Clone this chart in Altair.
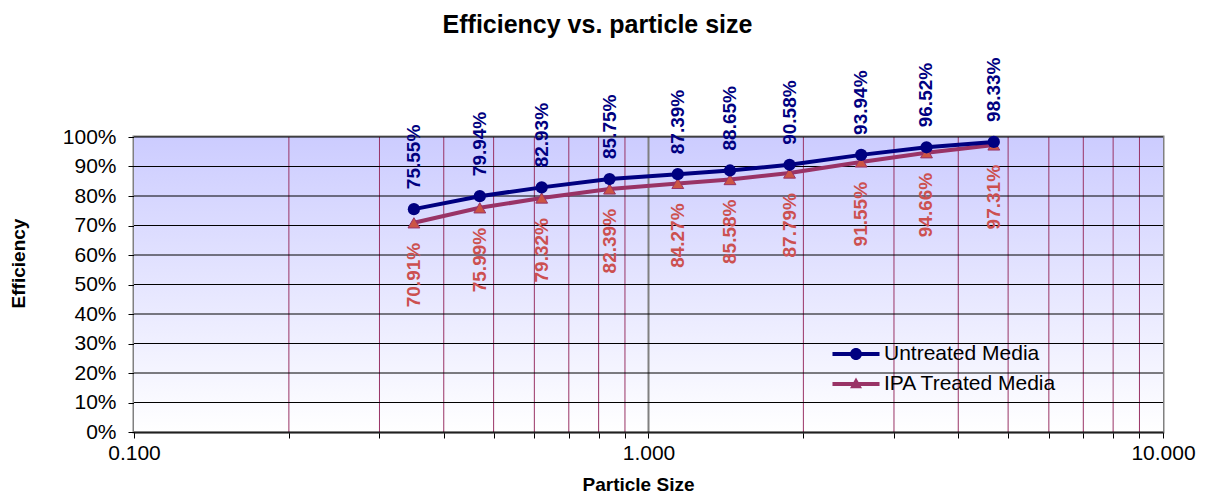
import altair as alt
import pandas as pd

# ---- data ----
PARTICLE_SIZE = [0.35, 0.47, 0.62, 0.84, 1.14, 1.44, 1.88, 2.59, 3.47, 4.69]
UNTREATED = [75.55, 79.94, 82.93, 85.75, 87.39, 88.65, 90.58, 93.94, 96.52, 98.33]
IPA_TREATED = [70.91, 75.99, 79.32, 82.39, 84.27, 85.58, 87.79, 91.55, 94.66, 97.31]
SERIES = ["Untreated Media", "IPA Treated Media"]

X_MAJOR = [0.1, 1, 10]
X_MINOR = [0.2, 0.3, 0.4, 0.5, 0.6, 0.7, 0.8, 0.9, 2, 3, 4, 5, 6, 7, 8, 9]
Y_TICKS = [0, 0.1, 0.2, 0.3, 0.4, 0.5, 0.6, 0.7, 0.8, 0.9, 1.0]

NAVY = "#000080"
MAROON = "#993366"
TRI_FILL = "#CC5544"
RED_LABEL = "#CC5050"
FONT = "Liberation Sans"

df = pd.DataFrame({
    "size": PARTICLE_SIZE,
    "untreated": [v / 100 for v in UNTREATED],
    "ipa": [v / 100 for v in IPA_TREATED],
    "u_label": [f"{v:.2f}%" for v in UNTREATED],
    "i_label": [f"{v:.2f}%" for v in IPA_TREATED],
})
minor_df = pd.DataFrame({"v": X_MINOR})
major_df = pd.DataFrame({"v": [1]})
ygrid_df = pd.DataFrame({"y": Y_TICKS})
legend_df = pd.DataFrame({"series": SERIES})
bg_df = pd.DataFrame({"a": [0]})

xscale = alt.Scale(type="log", domain=[0.1, 10], nice=False)
yscale = alt.Scale(domain=[0, 1], nice=False)

xaxis = alt.Axis(
    title="Particle Size",
    values=sorted(X_MAJOR + X_MINOR),
    labelExpr="(datum.value == 0.1 || datum.value == 1 || datum.value == 10) ? format(datum.value, '.3f') : ''",
    grid=False, ticks=True, tickSize=6, tickColor="#000000",
    domain=True, domainColor="#404040", domainWidth=2,
    labelFont=FONT, labelFontSize=21, labelColor="#000000", labelPadding=4,
    labelOverlap=False, labelFlush=False,
    titleFont=FONT, titleFontSize=19, titleFontWeight="bold", titleColor="#000000",
    titlePadding=12, titleX=504,
)
yaxis = alt.Axis(
    title="Efficiency",
    values=Y_TICKS, format=".0%",
    grid=False, ticks=True, tickSize=6, tickColor="#000000",
    domain=False,
    labelFont=FONT, labelFontSize=21, labelColor="#000000", labelPadding=12,
    titleFont=FONT, titleFontSize=19, titleFontWeight="bold", titleColor="#000000",
    titlePadding=34, titleY=126,
)


def X(field):
    return alt.X(f"{field}:Q", scale=xscale, axis=xaxis)


def Y(field):
    return alt.Y(f"{field}:Q", scale=yscale, axis=yaxis)


background = alt.Chart(bg_df).mark_rect(
    color=alt.Gradient(
        gradient="linear",
        stops=[alt.GradientStop(color="#CCCCFF", offset=0),
               alt.GradientStop(color="#FFFFFF", offset=1)],
        x1=0, x2=0, y1=0, y2=1,
    )
).encode(x=alt.value(0), x2=alt.value("width"), y=alt.value(0), y2=alt.value("height"))

minor_rules = alt.Chart(minor_df).mark_rule(color=MAROON, strokeWidth=1).encode(x=X("v"))
major_rules = alt.Chart(major_df).mark_rule(color="#808080", strokeWidth=2).encode(x=X("v"))
y_rules = alt.Chart(ygrid_df).mark_rule(color="#000000", strokeWidth=1).encode(y=Y("y"))

base = alt.Chart(df)
line_u = base.mark_line(color=NAVY, strokeWidth=4).encode(x=X("size"), y=Y("untreated"))
line_i = base.mark_line(color=MAROON, strokeWidth=4).encode(x=X("size"), y=Y("ipa"))
pts_u = base.mark_point(shape="circle", filled=True, color=NAVY, size=150, opacity=1).encode(
    x=X("size"), y=Y("untreated"))
pts_i = base.mark_point(shape="triangle-up", filled=True, fill=TRI_FILL, stroke=MAROON,
                        strokeWidth=1, size=140, opacity=1).encode(x=X("size"), y=Y("ipa"))

lab_u = base.mark_text(angle=270, align="left", baseline="middle", dx=20,
                       font=FONT, fontSize=19, fontWeight="bold", color=NAVY).encode(
    x=X("size"), y=Y("untreated"), text="u_label:N")
lab_i = base.mark_text(angle=270, align="right", baseline="middle", dx=-20,
                       font=FONT, fontSize=19, fontWeight="bold", color=RED_LABEL).encode(
    x=X("size"), y=Y("ipa"), text="i_label:N")

PATH_U = ("M-1.96,-0.17H1.96V0.17H-1.96Z "
          "M-0.5,0A0.5,0.5 0 1 1 0.5,0A0.5,0.5 0 1 1 -0.5,0Z")
PATH_I = ("M-1.96,-0.17H1.96V0.17H-1.96Z "
          "M0,-0.55L0.5,0.36L-0.5,0.36Z")

leg = alt.Legend(
    title=None, orient="none", legendX=710, legendY=205, padding=0,
    symbolSize=576, symbolOpacity=1, symbolStrokeWidth=0,
    labelFont=FONT, labelFontSize=21, labelColor="#000000", labelOffset=16,
    labelLimit=400, rowPadding=8,
)
legend_layer = alt.Chart(legend_df).transform_filter("false").mark_point(
    filled=True, opacity=1
).encode(
    color=alt.Color("series:N", scale=alt.Scale(domain=SERIES, range=[NAVY, MAROON]), legend=leg),
    shape=alt.Shape("series:N", scale=alt.Scale(domain=SERIES, range=[PATH_U, PATH_I]), legend=leg),
)

chart = alt.layer(
    background, minor_rules, major_rules, y_rules,
    line_i, line_u, pts_i, pts_u, lab_u, lab_i, legend_layer,
).properties(
    width=1029, height=295,
    padding={"left": 126, "top": 129, "right": 34, "bottom": 64},
    autosize="none",
    title=alt.TitleParams("Efficiency vs. particle size", font=FONT, fontSize=25,
                          fontWeight="bold", color="#000000", anchor="middle",
                          dx=-51, offset=19),
).configure_view(
    stroke="#808080", strokeWidth=3, fill=None,
)

chart.save("out.html", embed_options={"renderer": "svg", "actions": False})
